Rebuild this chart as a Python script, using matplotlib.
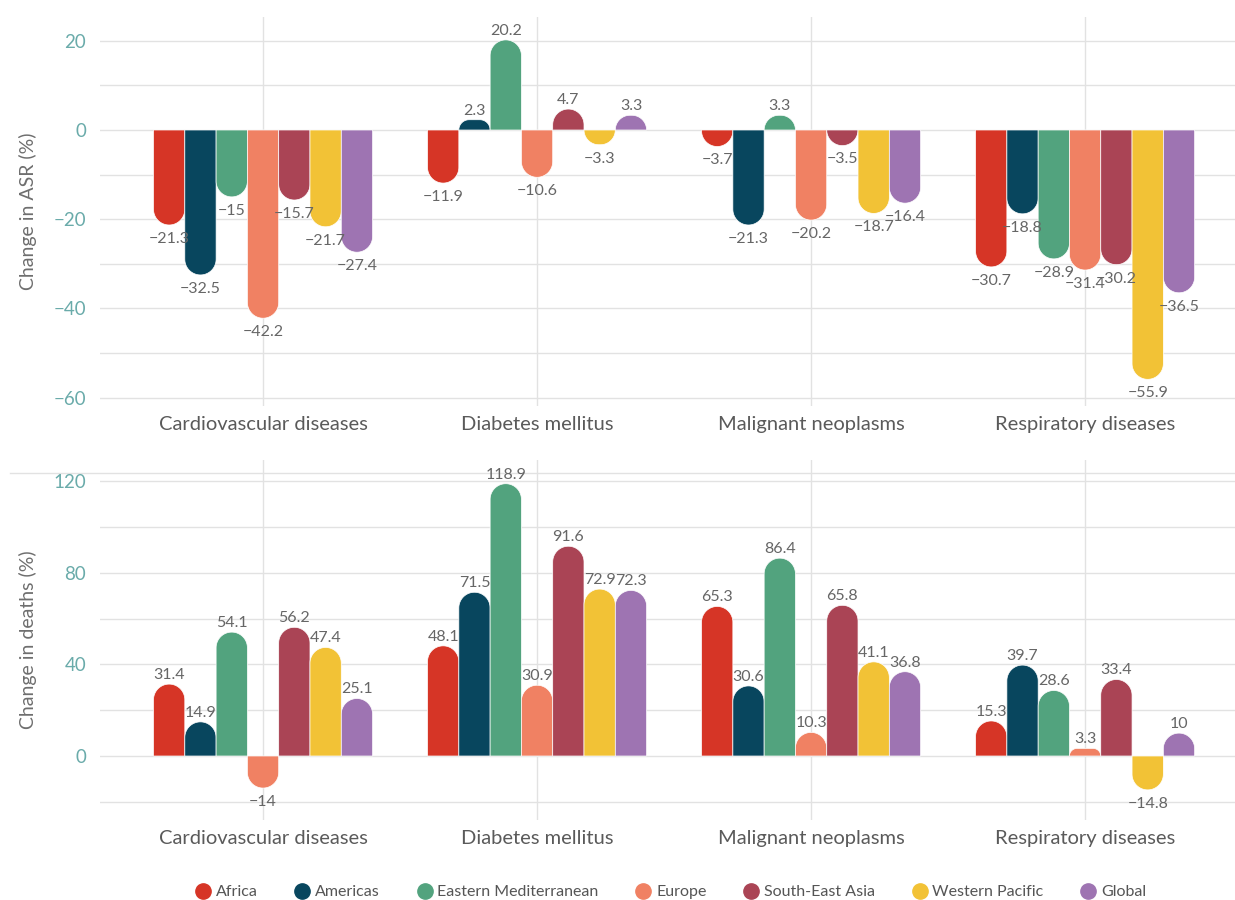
import numpy as np
import matplotlib
matplotlib.use("Agg")
import matplotlib.pyplot as plt
from matplotlib.lines import Line2D
from matplotlib.ticker import MultipleLocator

plt.rcParams['font.family'] = ['Lato', 'DejaVu Sans']

categories = ["Cardiovascular diseases", "Diabetes mellitus", "Malignant neoplasms", "Respiratory diseases"]
regions = ["Africa", "Americas", "Eastern Mediterranean", "Europe", "South-East Asia", "Western Pacific", "Global"]
colors = ["#D63526", "#08465E", "#52A37E", "#F08163", "#AA4455", "#F2C236", "#9E74B2"]

asr_africa = [-21.3, -11.9, -3.7, -30.7]
asr_americas = [-32.5, 2.3, -21.3, -18.8]
asr_emed = [-15, 20.2, 3.3, -28.9]
asr_europe = [-42.2, -10.6, -20.2, -31.4]
asr_sea = [-15.7, 4.7, -3.5, -30.2]
asr_wpac = [-21.7, -3.3, -18.7, -55.9]
asr_global = [-27.4, 3.3, -16.4, -36.5]

deaths_africa = [31.4, 48.1, 65.3, 15.3]
deaths_americas = [14.9, 71.5, 30.6, 39.7]
deaths_emed = [54.1, 118.9, 86.4, 28.6]
deaths_europe = [-14, 30.9, 10.3, 3.3]
deaths_sea = [56.2, 91.6, 65.8, 33.4]
deaths_wpac = [47.4, 72.9, 41.1, -14.8]
deaths_global = [25.1, 72.3, 36.8, 10]

asr = [asr_africa, asr_americas, asr_emed, asr_europe, asr_sea, asr_wpac, asr_global]
deaths = [deaths_africa, deaths_americas, deaths_emed, deaths_europe, deaths_sea, deaths_wpac, deaths_global]

W, H = 1235, 900
fig = plt.figure(figsize=(W / 100, H / 100), dpi=100)

TICK_COLOR = "#6aabaa"
TEXT_COLOR = "#5a5a5a"
LABEL_COLOR = "#666666"
GRID_COLOR = "#e2e2e2"


def px_axes(left, top, right, bottom):
    ax = fig.add_axes([left / W, 1 - bottom / H, (right - left) / W, (bottom - top) / H])
    ax.patch.set_alpha(0)
    return ax


def fmt(v):
    s = f"{abs(v):g}"
    return ("\u2212" + s) if v < 0 else s


def rounded_bar(ax, c, w, v, color):
    bb = ax.get_window_extent()
    x0, x1 = ax.get_xlim()
    y0, y1 = ax.get_ylim()
    sx = bb.width / (x1 - x0)
    sy = bb.height / (y1 - y0)
    s = 1 if v >= 0 else -1
    h_px = abs(v) * sy
    r_px = min(w * sx / 2, h_px)
    rx = r_px / sx
    ry = r_px / sy
    cy = v - s * ry
    xs = [c - w / 2, c - w / 2]
    ys = [0, cy]
    t = np.linspace(np.pi, np.pi / 2, 20)
    xs += list(c - w / 2 + rx + rx * np.cos(t))
    ys += list(cy + s * ry * np.sin(t))
    t = np.linspace(np.pi / 2, 0, 20)
    xs += list(c + w / 2 - rx + rx * np.cos(t))
    ys += list(cy + s * ry * np.sin(t))
    xs += [c + w / 2, c + w / 2]
    ys += [cy, 0]
    ax.fill(xs, ys, color=color, edgecolor="white", linewidth=0.5, zorder=3)


def panel(ax, data, ylim, major, minor, ylabel):
    ax.set_xlim(-0.595, 3.547)
    ax.set_ylim(*ylim)
    for sp in ax.spines.values():
        sp.set_visible(False)
    ax.yaxis.set_major_locator(MultipleLocator(major))
    ax.yaxis.set_minor_locator(MultipleLocator(minor))
    ax.grid(True, axis="y", which="both", color=GRID_COLOR, linewidth=1, zorder=0)
    ax.set_xticks(range(len(categories)))
    ax.set_xticklabels(categories, fontsize=14.5, color=TEXT_COLOR)
    ax.grid(True, axis="x", color=GRID_COLOR, linewidth=1, zorder=0)
    ax.tick_params(axis="both", which="both", length=0)
    ax.tick_params(axis="x", pad=7)
    ax.tick_params(axis="y", pad=10, labelsize=13.5, labelcolor=TICK_COLOR)
    ax.set_ylabel(ylabel, fontsize=14, color="#6e6e6e")
    ax.yaxis.set_label_coords((28 - 100) / 1135, 0.5)
    ax.yaxis.label.set_va("center")
    bw = 0.1142
    for i, series in enumerate(data):
        for j, v in enumerate(series):
            c = j + (i - 3) * bw
            rounded_bar(ax, c, bw, v, colors[i])
            off = 6.5 if v >= 0 else -10
            ax.annotate(fmt(v), (c, v), xytext=(0, off), textcoords="offset points",
                        ha="center", va="center", fontsize=11.5, color=LABEL_COLOR,
                        zorder=4, annotation_clip=False)


ax1 = px_axes(100, 17, 1235, 406)
panel(ax1, asr, ((130 - 406) / 4.46, (130 - 17) / 4.46), 20, 10, "Change in ASR (%)")
ax1.set_yticks([-60, -40, -20, 0, 20])
ax1.set_yticklabels([fmt(t) for t in [-60, -40, -20, 0, 20]])

ax2 = px_axes(100, 460, 1235, 820)
panel(ax2, deaths, ((756 - 820) / 2.29, (756 - 460) / 2.29), 40, 20, "Change in deaths (%)")
ax2.set_yticks([0, 40, 80, 120])
ax2.set_yticklabels([fmt(t) for t in [0, 40, 80, 120]])

fig.add_artist(Line2D([10 / W, 1], [1 - 473 / H] * 2, transform=fig.transFigure,
                      color=GRID_COLOR, linewidth=1, zorder=-1))

handles = [Line2D([], [], marker="o", linestyle="none", markersize=11,
                  markerfacecolor=c, markeredgecolor=c) for c in colors]
fig.legend(handles, regions, loc="center", bbox_to_anchor=(0.543, 1 - 892 / H), ncol=7,
           frameon=False, fontsize=11.5, handletextpad=0.3, columnspacing=2.3,
           labelcolor="#555555", handlelength=1.0)

fig.savefig("out.png", dpi=100)
